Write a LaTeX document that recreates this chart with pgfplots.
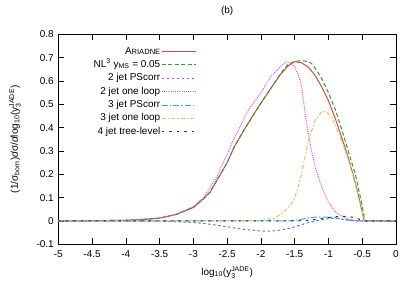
\documentclass[border=0pt]{standalone}
\usepackage{fontspec}
\setmainfont{Liberation Sans}
\usepackage{amsmath}
\usepackage{pgfplots}
\pgfplotsset{compat=1.18}
\definecolor{cRed}{RGB}{220,70,70}
\definecolor{cGreen}{RGB}{50,155,50}
\definecolor{cBlue}{RGB}{110,110,230}
\definecolor{cMag}{RGB}{230,70,230}
\definecolor{cCyan}{RGB}{60,170,220}
\definecolor{cYel}{RGB}{205,205,90}
\definecolor{cBlk}{RGB}{50,50,50}
\begin{document}
\begin{tikzpicture}
\useasboundingbox (-58.3bp,-46.7bp) rectangle (356.7bp,244.3bp);
\begin{axis}[
  at={(0,0)}, anchor=south west,
  scale only axis, width=337.7bp, height=210bp,
  xmin=-5, xmax=0, ymin=-0.1, ymax=0.8,
  xtick={-5,-4.5,...,0}, ytick={-0.1,0,0.1,0.2,0.3,0.4,0.5,0.6,0.7,0.8},
  minor tick num=0,
  tick align=inside, major tick length=6bp,
  tick style={black, line width=0.6bp},
  axis line style={black, line width=0.8bp},
  /pgf/number format/assume math mode=true,
  ticklabel style={font=\fontsize{10}{12}\selectfont},
  xticklabel style={yshift=-3bp},
  yticklabel style={xshift=-1bp},
  x tick label style={/pgf/number format/.cd, fixed, precision=1},
  y tick label style={/pgf/number format/.cd, fixed, precision=1},
  title={(b)},
  title style={at={(axis description cs:0.5,1.084)}, anchor=center, font=\fontsize{10}{12}\selectfont},
  xlabel={log$_{\text{10}}$(y$_{\text{3}}^{\text{JADE}}$)},
  xlabel style={at={(axis description cs:0.5,-0.135)}, anchor=center, font=\fontsize{10}{12}\selectfont},
  ylabel={(1/σ$_{\text{born}}$)\textit{d}σ/\textit{d}log$_{\text{10}}$(y$_{\text{3}}^{\text{JADE}}$)},
  ylabel style={at={(axis description cs:-0.128,0.5)}, anchor=center, font=\fontsize{10}{12}\selectfont},
  legend cell align=right,
  legend plot pos=right,
  legend image code/.code={\draw[#1] (0bp,0bp) -- (34bp,0bp);},
  legend style={draw=none, fill=none, at={(axis description cs:0.418,0.957)}, anchor=north east,
    font=\fontsize{10}{12}\selectfont, row sep=1.4bp,
    nodes={inner sep=1pt, text height=7.5bp, text depth=2.5bp}},
  every axis plot/.append style={line width=1bp},
]
\addplot[cRed] coordinates {
(-5,0) (-4.5,0.001) (-4,0.003) (-3.75,0.006) (-3.5,0.012) (-3.25,0.028) (-3,0.058)
(-2.85,0.095) (-2.75,0.125) (-2.65,0.175) (-2.5,0.25) (-2.4,0.315) (-2.25,0.39)
(-2.1,0.46) (-2,0.505) (-1.85,0.57) (-1.7,0.632) (-1.6,0.664) (-1.5,0.683)
(-1.4,0.678) (-1.3,0.66) (-1.2,0.625) (-1.1,0.575) (-1,0.515) (-0.9,0.44)
(-0.8,0.355) (-0.7,0.265) (-0.6,0.16) (-0.5,0.04) (-0.47,0) (-0.4,0) (0,0)};
\addlegendentry{A{\fontsize{7.6}{9}\selectfont RIADNE}}
\addplot[cGreen, dash pattern=on 4bp off 2.5bp] coordinates {
(-5,0) (-4.5,0.001) (-4,0.003) (-3.75,0.006) (-3.5,0.012) (-3.25,0.028) (-3,0.058)
(-2.85,0.095) (-2.75,0.125) (-2.65,0.175) (-2.5,0.25) (-2.4,0.315) (-2.25,0.39)
(-2.1,0.46) (-2,0.505) (-1.85,0.57) (-1.7,0.635) (-1.6,0.67) (-1.5,0.684)
(-1.4,0.687) (-1.3,0.683) (-1.25,0.675) (-1.2,0.656) (-1.1,0.61) (-1,0.55) (-0.9,0.478)
(-0.8,0.39) (-0.7,0.293) (-0.6,0.197) (-0.5,0.065) (-0.46,0) (-0.4,0) (0,0)};
\addlegendentry{NL$^{\text{3}}$ y$_{\text{MS}}$ = 0.05}
\addplot[cBlue, dash pattern=on 2.5bp off 2.5bp] coordinates {
(-5,0) (-3.5,-0.001) (-3,-0.006) (-2.75,-0.014) (-2.5,-0.025) (-2.25,-0.036)
(-2,-0.043) (-1.9,-0.044) (-1.75,-0.041) (-1.6,-0.033) (-1.5,-0.025) (-1.4,-0.016)
(-1.3,-0.007) (-1.2,0) (-1.1,0.006) (-1,0.01) (-0.9,0.011) (-0.8,0.008) (-0.7,0.004)
(-0.6,0.001) (-0.5,0) (0,0)};
\addlegendentry{2 jet PScorr}
\addplot[cMag, dash pattern=on 1bp off 1.2bp] coordinates {
(-5,0) (-4.5,0.001) (-4,0.003) (-3.5,0.013) (-3.25,0.03) (-3,0.062) (-2.85,0.1)
(-2.65,0.19) (-2.4,0.35) (-2.2,0.47) (-2,0.55) (-1.85,0.62) (-1.7,0.665)
(-1.62,0.683) (-1.55,0.675) (-1.5,0.66) (-1.45,0.63) (-1.4,0.58) (-1.35,0.47)
(-1.3,0.375) (-1.25,0.3) (-1.2,0.235) (-1.1,0.145) (-1,0.08) (-0.9,0.04)
(-0.8,0.02) (-0.7,0.008) (-0.6,0.002) (-0.5,0) (0,0)};
\addlegendentry{2 jet one loop}
\addplot[cCyan, dash pattern=on 6bp off 2bp on 1.5bp off 2bp] coordinates {
(-5,0) (-1.6,0) (-1.5,0.002) (-1.4,0.007) (-1.3,0.013) (-1.2,0.016) (-1,0.016)
(-0.9,0.014) (-0.8,0.008) (-0.7,0.003) (-0.6,0) (0,0)};
\addlegendentry{3 jet PScorr}
\addplot[cYel, dash pattern=on 4bp off 2bp on 1.5bp off 2bp] coordinates {
(-5,0) (-2.5,0) (-2,0.003) (-1.8,0.012) (-1.7,0.03) (-1.6,0.055) (-1.55,0.075)
(-1.5,0.1) (-1.45,0.145) (-1.4,0.2) (-1.3,0.34) (-1.2,0.43) (-1.1,0.468)
(-1.05,0.47) (-1,0.46) (-0.95,0.443) (-0.9,0.41) (-0.8,0.34) (-0.7,0.26)
(-0.6,0.158) (-0.5,0.04) (-0.47,0) (0,0)};
\addlegendentry{3 jet one loop}
\addplot[cBlk, dash pattern=on 2.5bp off 5bp] coordinates {
(-5,0) (-1.5,0) (-1.3,0.003) (-1.2,0.006) (-1.1,0.01) (-1,0.014) (-0.9,0.018)
(-0.8,0.02) (-0.7,0.019) (-0.6,0.014) (-0.5,0.002) (-0.47,0) (0,0)};
\addlegendentry{4 jet tree-level}
\end{axis}
\end{tikzpicture}
\end{document}
